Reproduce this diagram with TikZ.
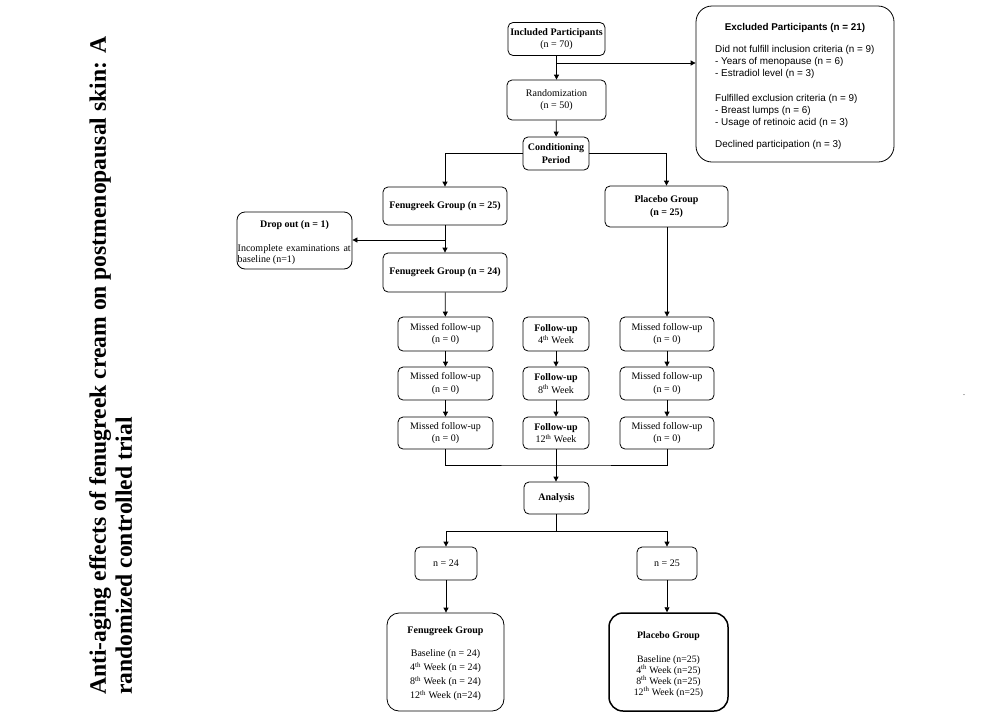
\documentclass[tikz,border=0pt]{standalone}
\usepackage{fontspec}
\setmainfont{Liberation Serif}
\newfontfamily\sansf{Liberation Sans}
\usetikzlibrary{arrows.meta}
\begin{document}
\begin{tikzpicture}[x=1pt,y=-1pt,
  box/.style={draw, rounded corners=5pt, line width=0.8pt, align=center, inner sep=0pt,
    font=\fontsize{10}{12.5}\selectfont},
  sz/.style 2 args={minimum width=#1pt, minimum height=#2pt},
  arr/.style={-{Triangle[length=5pt,width=5pt]}, line width=0.8pt},
  ln/.style={line width=0.8pt},
  txt/.style={inner sep=0pt, font=\fontsize{10}{11}\selectfont}]
\useasboundingbox (0,0) rectangle (1004,726);

% title
\node[rotate=90, anchor=north west, inner sep=0pt, align=left,
  font=\bfseries\fontsize{23.6}{26}\selectfont] (title) at (89,695)
  {Anti-aging effects of fenugreek cream on postmenopausal skin: A\\randomized controlled trial};

% top
\node[box, sz={97}{33}] (inc) at (556.5,39) {\textbf{Included Participants}\\(n = 70)};
\node[box, sz={99}{40}] (rand) at (556.5,100) {Randomization\\(n = 50)};
\node[box, sz={66}{33}] (cond) at (556,153.5) {\textbf{Conditioning}\\\textbf{Period}};

% excluded
\node[draw, line width=0.8pt, rounded corners=16pt, sz={198}{156}] (excl) at (795,84) {};
\node[inner sep=0pt, font=\sansf\bfseries\fontsize{9.85}{11}\selectfont] (exclt) at (795,28) {Excluded Participants (n = 21)};
\node[inner sep=0pt, anchor=north west, align=left, font=\sansf\fontsize{9.9}{11.8}\selectfont] (exclb) at (715,45.5)
 {Did not fulfill inclusion criteria (n = 9)\\
  - Years of menopause (n = 6)\\
  - Estradiol level (n = 3)\\[13.3pt]
  Fulfilled exclusion criteria (n = 9)\\
  - Breast lumps (n = 6)\\
  - Usage of retinoic acid (n = 3)\\[10.5pt]
  Declined participation (n = 3)};

% groups
\node[box, sz={124}{38}] (fen25) at (445,206) {\textbf{Fenugreek Group (n = 25)}};
\node[box, sz={123}{41}] (plac25) at (666.5,206.5) {\textbf{Placebo Group}\\\textbf{(n = 25)}};
\node[box, rounded corners=8pt, sz={115}{57}] (drop) at (294.5,240.5) {};
\node[txt] (dropt) at (294.5,225) {\textbf{Drop out (n = 1)}};
\node[txt, anchor=north west, align=left] (dropb) at (237.5,244.5)
  {\makebox[113pt][s]{Incomplete examinations at}\\baseline (n=1)};
\node[box, sz={124}{39}] (fen24) at (445,272.5) {\textbf{Fenugreek Group (n = 24)}};

% follow-up rows
\node[box, sz={95}{34}] (mL1) at (445.5,334) {Missed follow-up\\(n = 0)};
\node[box, sz={95}{33}] (mL2) at (445.5,383.5) {Missed follow-up\\(n = 0)};
\node[box, sz={95}{32}] (mL3) at (445.5,433) {Missed follow-up\\(n = 0)};
\node[box, sz={66}{34}] (f4) at (556,334) {\textbf{Follow-up}\\4\textsuperscript{th} Week};
\node[box, sz={66}{33}] (f8) at (556,383.5) {\textbf{Follow-up}\\8\textsuperscript{th} Week};
\node[box, sz={66}{32}] (f12) at (556,433) {\textbf{Follow-up}\\12\textsuperscript{th} Week};
\node[box, sz={94}{34}] (mR1) at (667,334) {Missed follow-up\\(n = 0)};
\node[box, sz={94}{33}] (mR2) at (667,383.5) {Missed follow-up\\(n = 0)};
\node[box, sz={94}{32}] (mR3) at (667,433) {Missed follow-up\\(n = 0)};

% analysis
\node[box, sz={65}{32}] (ana) at (556.5,498) {\textbf{Analysis}};
\node[box, sz={62}{33}] (n24) at (446,563.5) {n = 24};
\node[box, sz={60}{33}] (n25) at (667,563.5) {n = 25};

% final boxes
\node[box, rounded corners=12pt, sz={117}{98}] (fenF) at (445.5,662) {};
\node[txt, anchor=north, align=center, font=\fontsize{10}{14}\selectfont] (fenFt) at (445.5,626.5)
  {\textbf{Fenugreek Group}\\[9pt]Baseline (n = 24)\\4\textsuperscript{th} Week (n = 24)\\8\textsuperscript{th} Week (n = 24)\\12\textsuperscript{th} Week (n=24)};
\node[box, rounded corners=14pt, line width=1.5pt, sz={119}{98}] (placF) at (668.5,662) {};
\node[txt, anchor=north, align=center, font=\fontsize{9.8}{11}\selectfont] (placFt) at (668.5,631)
  {\textbf{Placebo Group}\\[13pt]Baseline (n=25)\\4\textsuperscript{th} Week (n=25)\\8\textsuperscript{th} Week (n=25)\\12\textsuperscript{th} Week (n=25)};

% stray dot
\node[inner sep=0pt, font=\fontsize{8}{8}\selectfont] (dot) at (964,395) {.};

% connectors
\coordinate (j1) at (556.5,63);
\coordinate (j2) at (445,240);
\coordinate (jb) at (556,465);
\coordinate (jc) at (556.5,531);
\draw[arr] (inc) -- (rand);
\draw[arr] (j1) -- (excl.west |- j1);
\draw[arr] (rand) -- (cond);
\draw[arr] (cond.west) -| (fen25.north);
\draw[arr] (cond.east) -| (plac25.north);
\draw[arr] (fen25) -- (fen24);
\draw[arr] (j2) -- (drop.east |- j2);
\draw[arr] (fen24) -- (mL1);
\draw[arr] (mL1) -- (mL2);
\draw[arr] (mL2) -- (mL3);
\draw[arr] (plac25.south -| mR1.north) -- (mR1);
\draw[arr] (mR1) -- (mR2);
\draw[arr] (mR2) -- (mR3);
\draw[arr] (f4) -- (f8);
\draw[arr] (f8) -- (f12);
\draw[ln] (mL3.south) |- (jb) -| (mR3.south);
\draw[arr] (f12.south) -- (f12.south |- ana.north);
\draw[ln] (ana.south) -- (jc);
\draw[arr] (jc) -| (n24.north);
\draw[arr] (jc) -| (n25.north);
\draw[arr] (n24) -- (n24.south |- fenF.north);
\draw[arr] (n25) -- (n25.south |- placF.north);
\end{tikzpicture}
\end{document}
